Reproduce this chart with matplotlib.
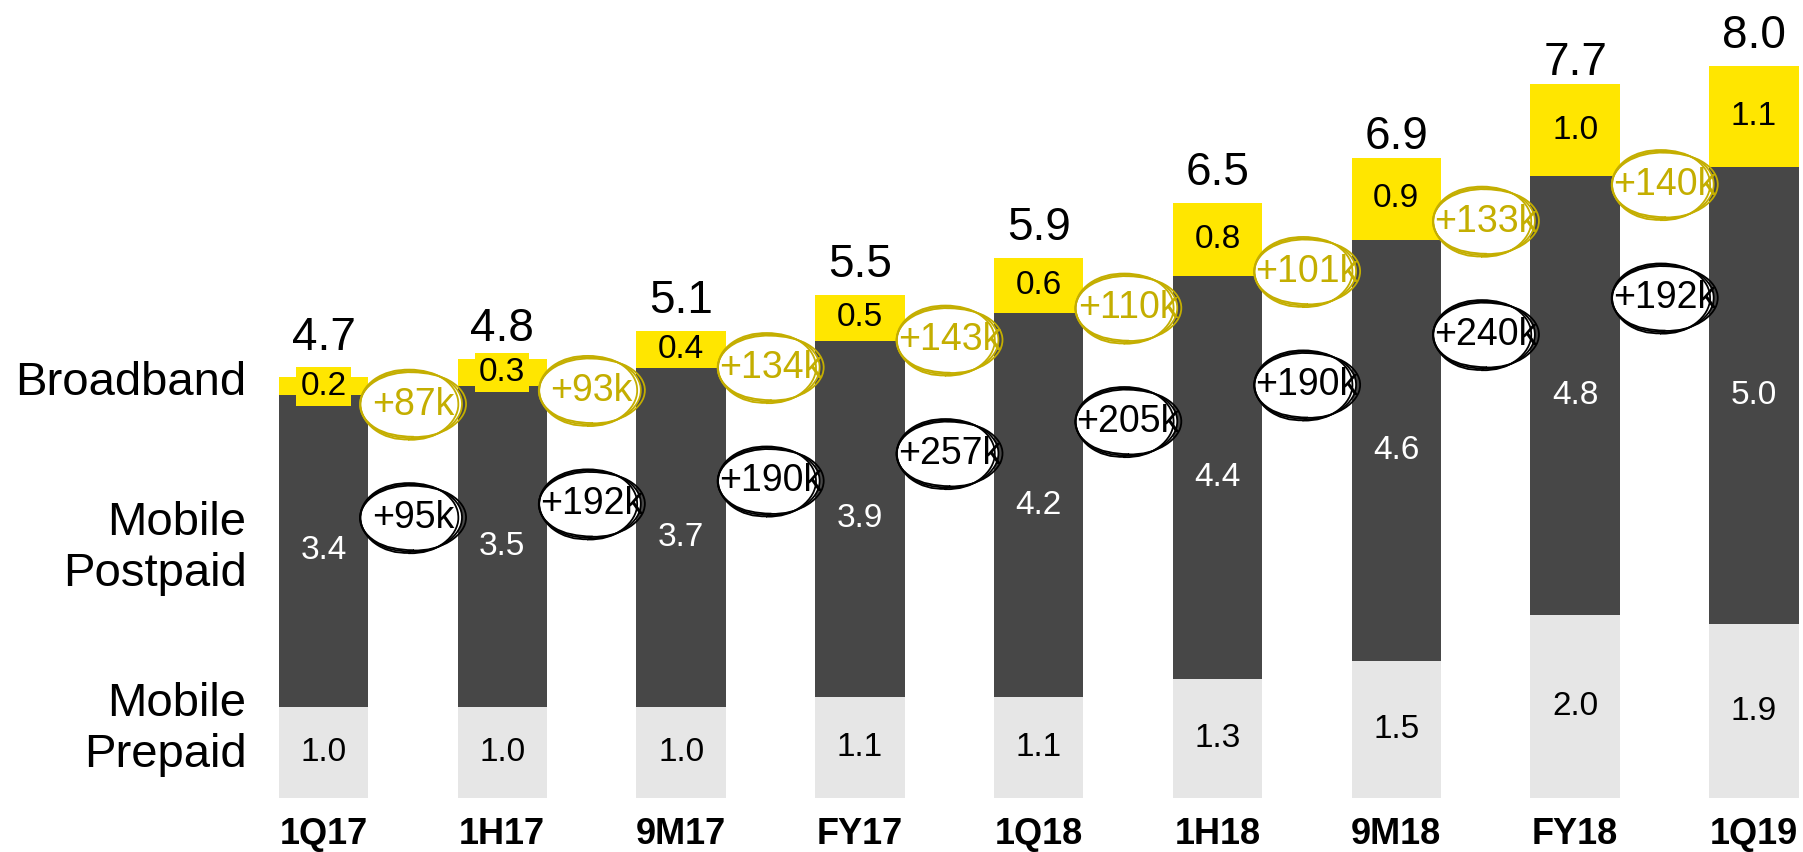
import numpy as np
import matplotlib.pyplot as plt
from matplotlib.patches import Ellipse

plt.rcParams['font.family'] = ['Liberation Sans', 'DejaVu Sans']

# data (millions of subscribers)
periods = ["1Q17", "1H17", "9M17", "FY17", "1Q18", "1H18", "9M18", "FY18", "1Q19"]
prepaid = [1.0, 1.0, 1.0, 1.1, 1.1, 1.3, 1.5, 2.0, 1.9]
postpaid = [3.4, 3.5, 3.7, 3.9, 4.2, 4.4, 4.6, 4.8, 5.0]
broadband = [0.2, 0.3, 0.4, 0.5, 0.6, 0.8, 0.9, 1.0, 1.1]
totals = [4.7, 4.8, 5.1, 5.5, 5.9, 6.5, 6.9, 7.7, 8.0]

# net adds between periods (thousands)
broadband_adds = [87, 93, 134, 143, 110, 101, 133, 140]
mobile_adds = [95, 192, 190, 257, 205, 190, 240, 192]

YELLOW = "#FFE600"
DARK = "#474747"
LIGHT = "#E6E6E6"
GOLD = "#C4AE00"

fig = plt.figure(figsize=(18.03, 8.52), dpi=100)
ax = fig.add_axes([0, 54 / 852, 1, 798 / 852])

x = np.arange(len(periods))
w = 0.5
mobile_top = [a + b for a, b in zip(prepaid, postpaid)]

ax.bar(x, prepaid, w, color=LIGHT, zorder=1)
ax.bar(x, postpaid, w, bottom=prepaid, color=DARK, zorder=1)
ax.bar(x, broadband, w, bottom=mobile_top, color=YELLOW, zorder=1)

for i in range(len(periods)):
    ax.text(x[i], prepaid[i] / 2, f"{prepaid[i]:.1f}", ha="center", va="center",
            fontsize=24, color="black", zorder=3)
    ax.text(x[i], prepaid[i] + postpaid[i] / 2, f"{postpaid[i]:.1f}", ha="center",
            va="center", fontsize=24, color="white", zorder=3)
    box = None
    if broadband[i] < 0.35:
        box = dict(boxstyle="square,pad=0.12", fc=YELLOW, ec="none")
    ax.text(x[i], mobile_top[i] + broadband[i] / 2, f"{broadband[i]:.1f}", ha="center",
            va="center", fontsize=24, color="black", bbox=box, zorder=3)
    ax.annotate(f"{totals[i]:.1f}", (x[i], totals[i]), xytext=(0, 13),
                textcoords="offset points", ha="center", va="baseline", fontsize=33)


def scribble(cx, cy, color):
    # hand-drawn looking circle: a few loose overlapping strokes
    base = Ellipse((cx, cy), 0.57, 0.74, fc="white", ec="none", zorder=4)
    ax.add_patch(base)
    for dw, dh, dx in [(0, 0, 0), (0.025, -0.03, 0.01), (-0.02, 0.03, -0.01)]:
        e = Ellipse((cx + dx, cy), 0.57 + dw, 0.74 + dh, fill=False, ec=color,
                    lw=1.3, zorder=5)
        e.set_sketch_params(0.3, 80, 3)
        ax.add_patch(e)


for i in range(len(periods) - 1):
    xm = x[i] + 0.5
    gy = (mobile_top[i] + mobile_top[i + 1]) / 2 - 0.15
    by = gy - 1.24
    scribble(xm - 0.01, gy, GOLD)
    ax.text(xm, gy, f"+{broadband_adds[i]}k", ha="center", va="center",
            fontsize=27, color=GOLD, zorder=6)
    scribble(xm - 0.01, by, "black")
    ax.text(xm, by, f"+{mobile_adds[i]}k", ha="center", va="center",
            fontsize=27, color="black", zorder=6)

# row labels on the left
ax.text(-0.43, 4.54, "Broadband", ha="right", va="center", fontsize=34)
ax.text(-0.43, 2.73, "Mobile\nPostpaid", ha="right", va="center", fontsize=34)
ax.text(-0.43, 0.75, "Mobile\nPrepaid", ha="right", va="center", fontsize=34)

ax.set_xlim(-1.809, 8.274)
ax.set_ylim(0, 798 / 91.5)
ax.set_xticks(x)
ax.set_xticklabels(periods, fontsize=26, fontweight="bold")
ax.tick_params(axis="x", length=0, pad=14)
ax.set_yticks([])
for s in ax.spines.values():
    s.set_visible(False)

fig.savefig("out.png", dpi=100)
